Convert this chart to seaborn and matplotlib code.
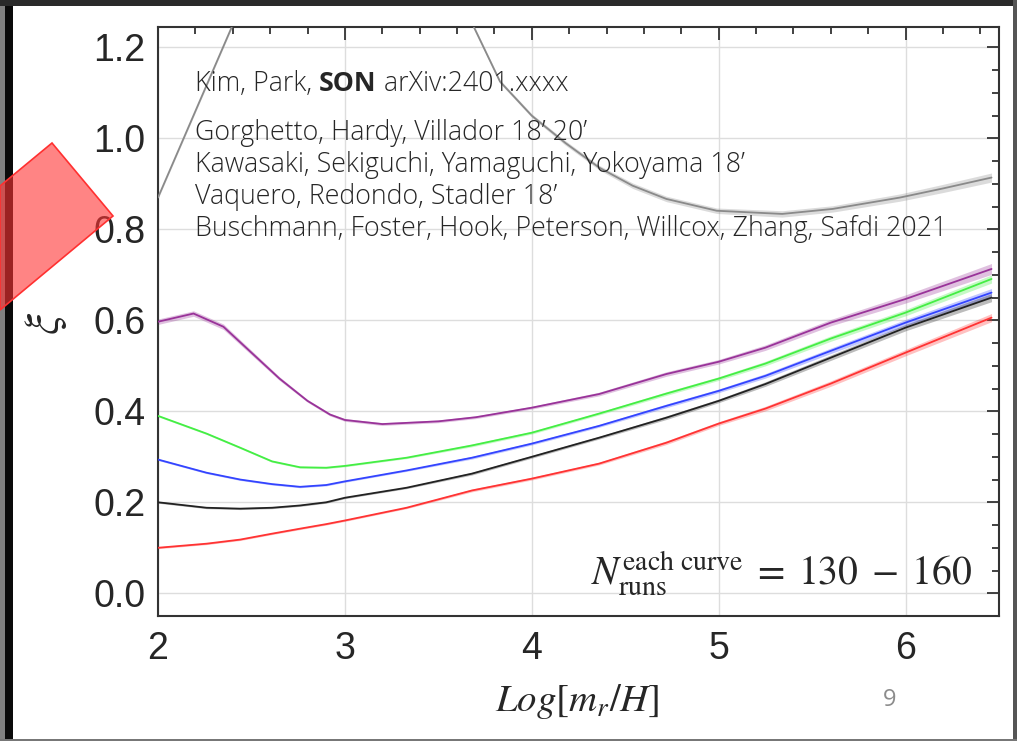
import numpy as np
import pandas as pd
import matplotlib
matplotlib.use("Agg")
import matplotlib.pyplot as plt
import matplotlib.transforms as mtransforms
from matplotlib.patches import Rectangle, Polygon
from matplotlib.ticker import MultipleLocator
import seaborn as sns

# ---------------- data ----------------
x_gray = [2.0, 2.2, 2.4, 2.6, 2.8, 3.0, 3.2, 3.4, 3.6, 3.69, 3.83, 4.0, 4.18, 4.36, 4.54, 4.72, 4.99, 5.34, 5.61, 5.97, 6.2, 6.46]
y_gray = [0.87, 1.06, 1.25, 1.42, 1.54, 1.60, 1.58, 1.50, 1.34, 1.245, 1.125, 1.05, 0.99, 0.936, 0.896, 0.867, 0.841, 0.834, 0.845, 0.870, 0.890, 0.914]
e_gray = [0.003, 0.003, 0.003, 0.003, 0.003, 0.003, 0.003, 0.003, 0.004, 0.004, 0.004, 0.004, 0.005, 0.005, 0.006, 0.006, 0.006, 0.007, 0.007, 0.008, 0.009, 0.010]

x_purple = [2.0, 2.19, 2.35, 2.5, 2.65, 2.8, 2.92, 3.0, 3.2, 3.5, 3.7, 4.0, 4.36, 4.72, 5.0, 5.25, 5.6, 6.0, 6.46]
y_purple = [0.597, 0.615, 0.586, 0.529, 0.472, 0.423, 0.393, 0.381, 0.372, 0.378, 0.387, 0.408, 0.438, 0.482, 0.509, 0.540, 0.595, 0.647, 0.713]
e_purple = [0.006, 0.006, 0.006, 0.005, 0.004, 0.003, 0.003, 0.003, 0.003, 0.003, 0.003, 0.003, 0.004, 0.005, 0.005, 0.006, 0.007, 0.009, 0.012]

x_std = [2.0, 2.26, 2.44, 2.61, 2.76, 2.9, 3.0, 3.33, 3.68, 4.0, 4.36, 4.72, 5.0, 5.25, 5.6, 6.0, 6.46]
y_green = [0.390, 0.351, 0.320, 0.290, 0.277, 0.276, 0.280, 0.298, 0.325, 0.353, 0.395, 0.439, 0.472, 0.505, 0.560, 0.617, 0.691]
y_blue = [0.294, 0.265, 0.250, 0.240, 0.234, 0.238, 0.246, 0.270, 0.298, 0.329, 0.368, 0.412, 0.445, 0.478, 0.533, 0.595, 0.661]
y_black = [0.200, 0.188, 0.186, 0.188, 0.193, 0.200, 0.210, 0.232, 0.263, 0.300, 0.342, 0.386, 0.423, 0.460, 0.518, 0.584, 0.650]
y_red = [0.100, 0.109, 0.118, 0.131, 0.142, 0.152, 0.160, 0.188, 0.226, 0.252, 0.285, 0.331, 0.373, 0.406, 0.461, 0.529, 0.606]
e_std = [0.002, 0.002, 0.002, 0.002, 0.002, 0.002, 0.002, 0.002, 0.003, 0.003, 0.003, 0.004, 0.004, 0.005, 0.006, 0.007, 0.009]

series = [
    ("gray", x_gray, y_gray, e_gray, "#8a8a8a"),
    ("purple", x_purple, y_purple, e_purple, "#993399"),
    ("green", x_std, y_green, e_std, "#44ee44"),
    ("blue", x_std, y_blue, e_std, "#3344ff"),
    ("black", x_std, y_black, e_std, "#222222"),
    ("red", x_std, y_red, e_std, "#ff3333"),
]

x_ticks = [2, 3, 4, 5, 6]
y_ticks = [0.0, 0.2, 0.4, 0.6, 0.8, 1.0, 1.2]

refs_line1 = ("Kim, Park, ", "SON", " arXiv:2401.xxxx")
refs_lines = [
    "Gorghetto, Hardy, Villador 18\u2019 20\u2019",
    "Kawasaki, Sekiguchi, Yamaguchi, Yokoyama 18\u2019",
    "Vaquero, Redondo, Stadler 18\u2019",
    "Buschmann, Foster, Hook, Peterson, Willcox, Zhang, Safdi 2021",
]

# ---------------- figure ----------------
sns.set_theme(style="white")
plt.rcParams["font.family"] = ["Liberation Sans", "DejaVu Sans"]
plt.rcParams["mathtext.fontset"] = "stix"

W, H = 1017, 741
fig = plt.figure(figsize=(W / 100, H / 100), dpi=100)
fig.patch.set_facecolor("white")

def fx(px):
    return px / W

def fy(py):
    return 1 - py / H

ax = fig.add_axes([fx(158), fy(616), fx(999) - fx(158), fy(27) - fy(616)])
ax.set_facecolor("white")

for name, xs, ys, es, col in series:
    df = pd.DataFrame({"x": xs, "y": ys, "e": es})
    ax.fill_between(df["x"], df["y"] - df["e"], df["y"] + df["e"], color=col, alpha=0.3, lw=0, zorder=2)
    sns.lineplot(data=df, x="x", y="y", ax=ax, color=col, lw=1.3, zorder=3, sort=False)

ax.set_xlim(2, 6.5)
ax.set_ylim(-0.05, 1.245)
ax.set_xticks(x_ticks)
ax.set_yticks(y_ticks)
ax.set_xticklabels([str(t) for t in x_ticks])
ax.set_yticklabels([f"{t:.1f}" for t in y_ticks])
ax.xaxis.set_minor_locator(MultipleLocator(0.2))
ax.yaxis.set_minor_locator(MultipleLocator(0.05))
ax.grid(True, which="major", color="#dddddd", lw=1.0, zorder=0)
ax.set_axisbelow(True)
ax.tick_params(which="both", direction="in", top=True, right=True, color="#333333", width=1.3)
ax.tick_params(which="major", length=9, labelsize=27, pad=9)
ax.tick_params(which="minor", length=5)
ax.tick_params(axis="x", which="major", pad=11)
for sp in ax.spines.values():
    sp.set_color("#333333")
    sp.set_linewidth(1.5)

ax.set_xlabel(r"$Log[m_r/H]$", fontsize=28)
ax.xaxis.set_label_coords(0.498, -0.112)
ax.set_ylabel(r"$\xi$", fontsize=34, rotation=90)
ax.yaxis.set_label_coords(-0.106, 0.497)

# annotation text
ax.text(0.968, 0.017, r"$N_{\mathrm{runs}}^{\mathrm{each\ curve}}\;=\;130\;-\;160$",
        transform=mtransforms.blended_transform_factory(ax.transAxes, ax.transData),
        fontsize=28.5, ha="right", va="baseline", zorder=5)

ref_font = ["Open Sans", "DejaVu Sans"]
ref_size = 19.3
fig.canvas.draw()
renderer = fig.canvas.get_renderer()
x0 = 195
t1 = fig.text(fx(x0), fy(91), refs_line1[0], fontsize=ref_size, family=ref_font, weight="light",
              va="baseline", ha="left")
bb = t1.get_window_extent(renderer)
t2 = fig.text(bb.x1 / W, fy(91), refs_line1[1], fontsize=ref_size, family=ref_font, weight="bold",
              va="baseline", ha="left")
bb2 = t2.get_window_extent(renderer)
fig.text(bb2.x1 / W, fy(91), refs_line1[2], fontsize=ref_size, family=ref_font, weight="light",
         va="baseline", ha="left")
for i, line in enumerate(refs_lines):
    fig.text(fx(x0), fy(140 + 32 * i), line, fontsize=ref_size, family=ref_font, weight="light",
             va="baseline", ha="left")

# page number
fig.text(fx(890), fy(700), "9", fontsize=17, color="#8c8c8c", family=ref_font, ha="center", va="center")

# slide frame decorations
fig.add_artist(Rectangle((0, 0), fx(5), 1, transform=fig.transFigure, color="#808080", lw=0, zorder=10))
fig.add_artist(Rectangle((fx(5), 0), fx(8), 1, transform=fig.transFigure, color="#0a0a0a", lw=0, zorder=10))
fig.add_artist(Rectangle((0, fy(6)), 1, 6 / H, transform=fig.transFigure, color="#2a2a2a", lw=0, zorder=10))
fig.add_artist(Rectangle((fx(1013), 0), fx(4), 1, transform=fig.transFigure, color="#555555", lw=0, zorder=10))
fig.add_artist(Rectangle((0, 0), 1, 2 / H, transform=fig.transFigure, color="#777777", lw=0, zorder=10))
diamond = [(fx(0), fy(186)), (fx(52), fy(143)), (fx(113), fy(216)), (fx(0), fy(310))]
fig.add_artist(Polygon(diamond, closed=True, transform=fig.transFigure, facecolor=(1, 0.2, 0.2, 0.6),
                       edgecolor="#ff3030", lw=1.2, zorder=11))

fig.savefig("out.png", dpi=100)
